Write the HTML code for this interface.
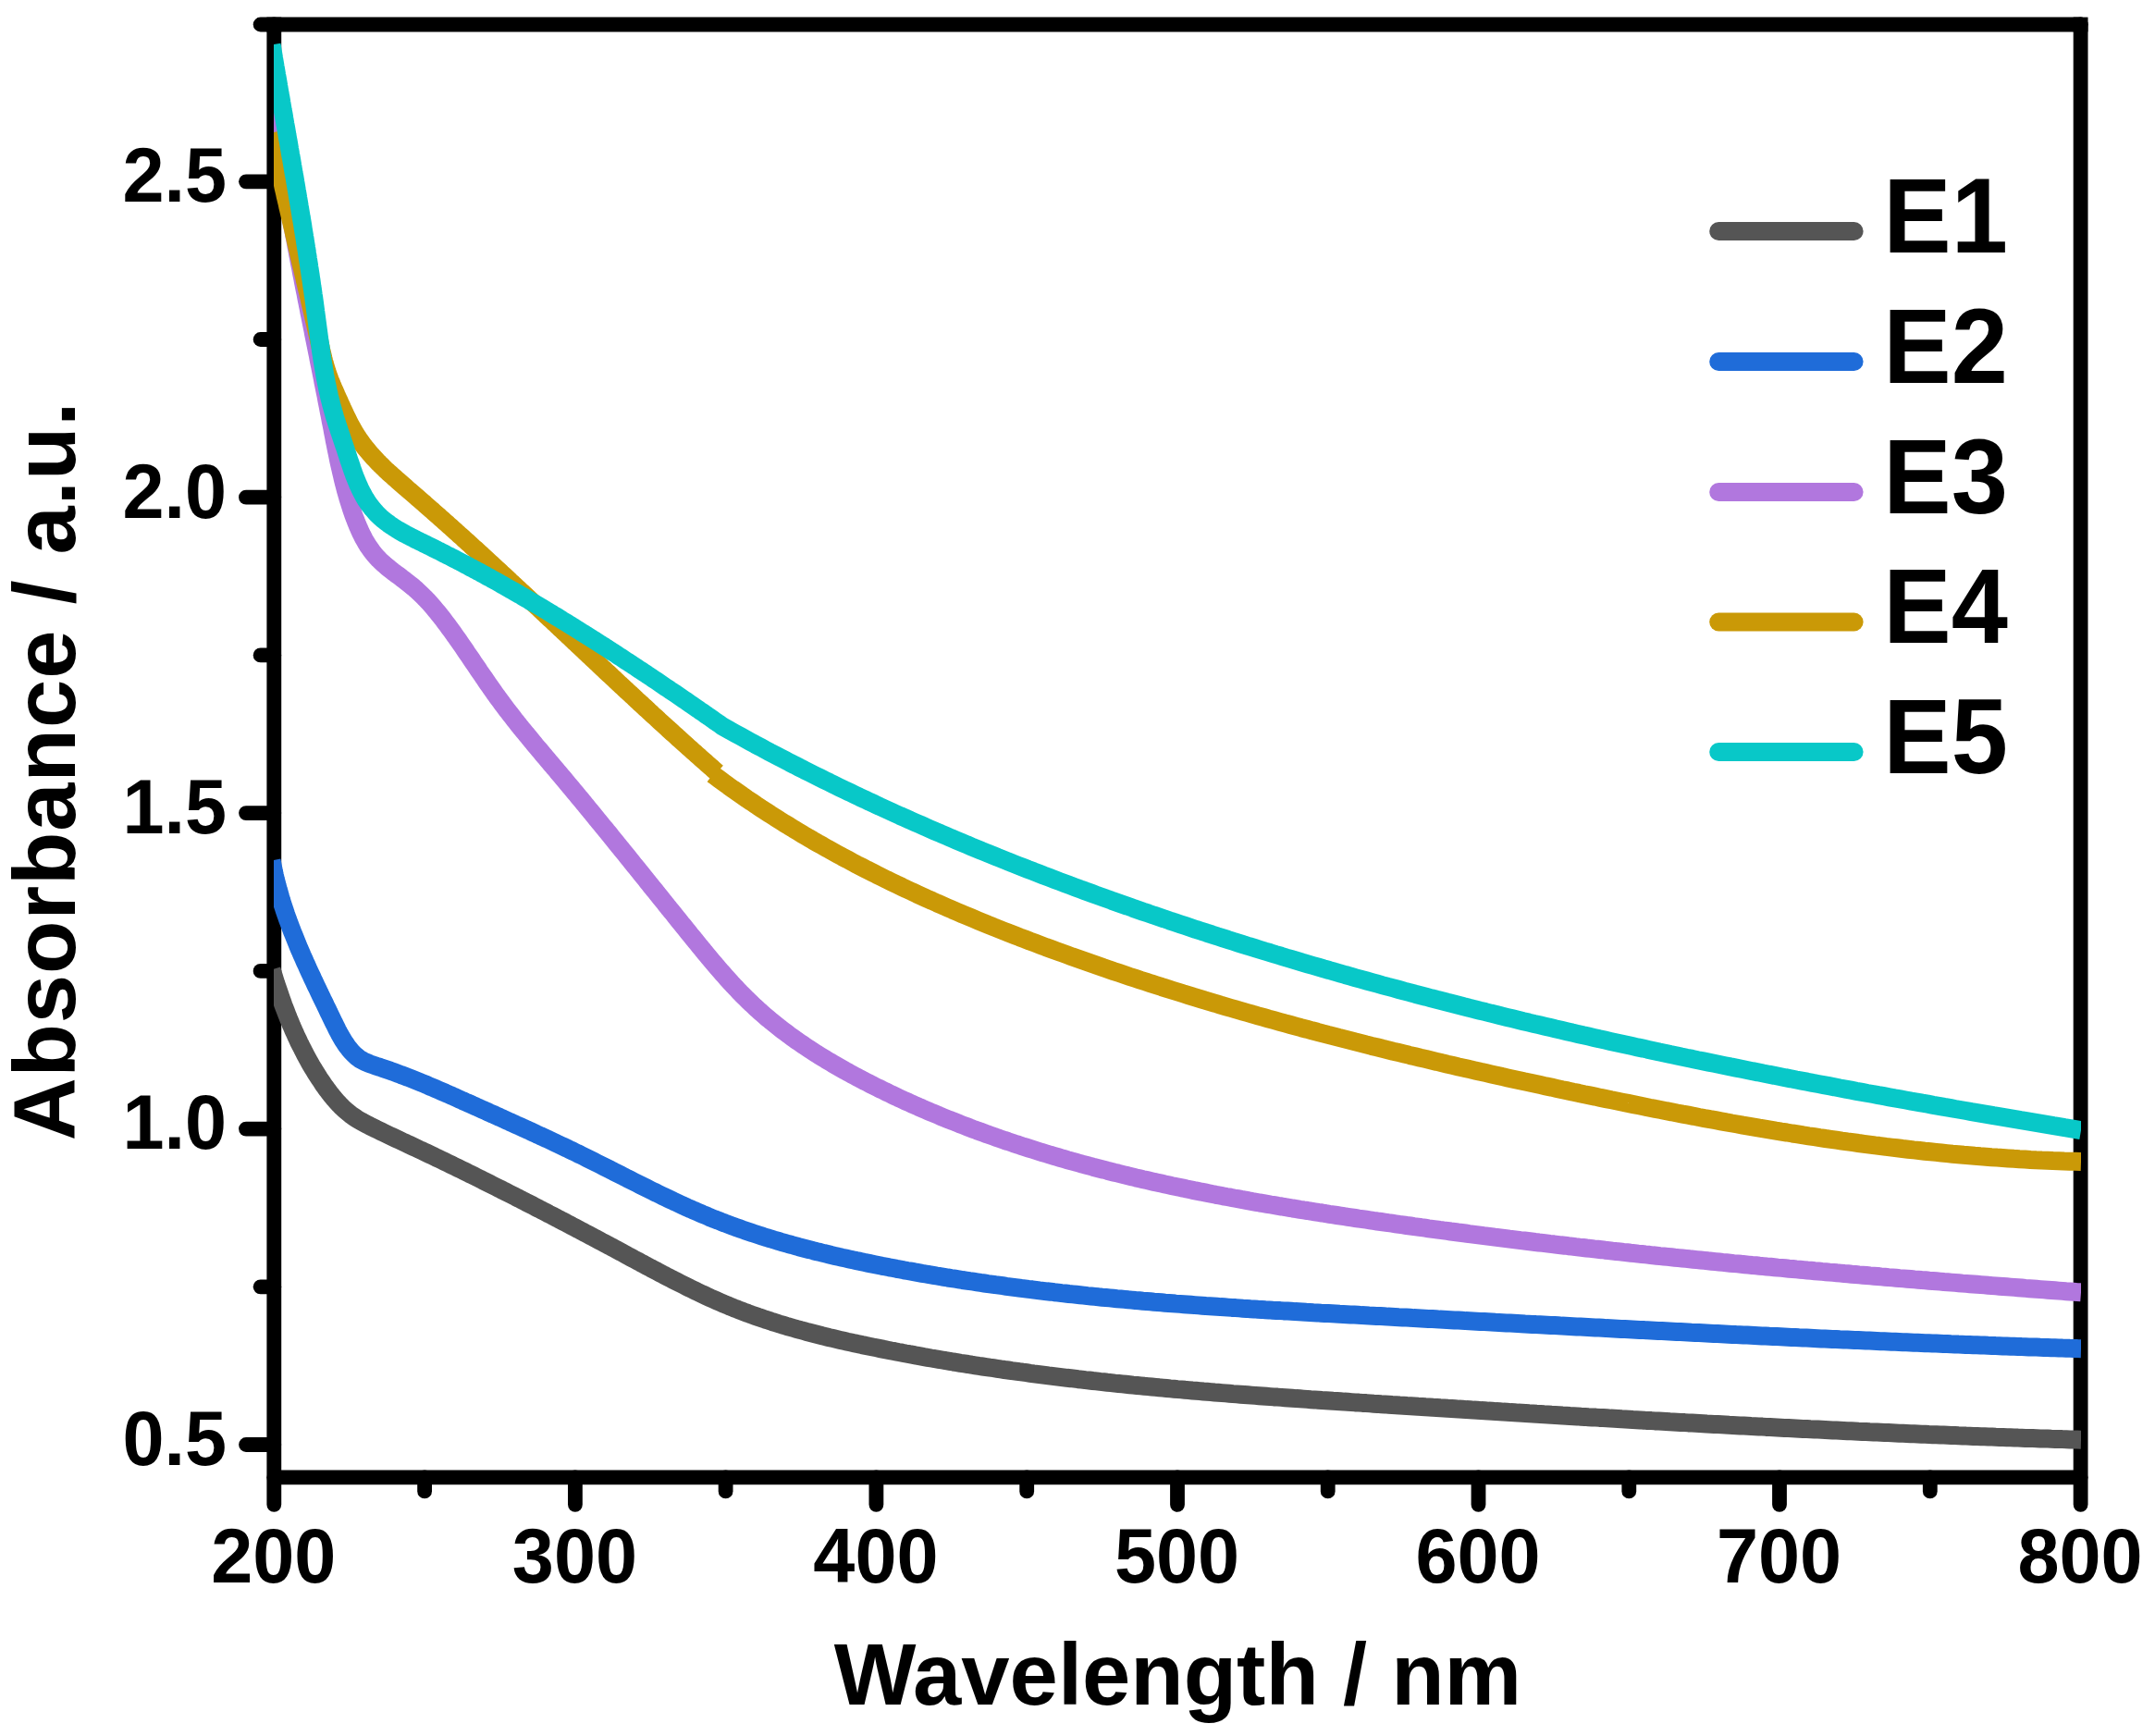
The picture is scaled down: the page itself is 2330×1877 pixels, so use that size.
<!DOCTYPE html>
<html lang="en"><head><meta charset="utf-8"><title>Absorbance spectra E1-E5</title>
<style>
html,body{margin:0;padding:0;background:#fff}
body{width:2330px;height:1877px;overflow:hidden}
svg{display:block}
</style></head><body>
<svg width="2330" height="1877" viewBox="0 0 2330 1877" font-family="'Liberation Sans', Arial, Helvetica, sans-serif" font-weight="bold">
<defs><clipPath id="pc"><rect x="296.0" y="26.5" width="1954.0" height="1570.9"/></clipPath></defs>
<rect width="2330" height="1877" fill="#fff"/>
<g stroke="#000" stroke-width="15.8" fill="none" stroke-linecap="round">
<path d="M296.3 26.50V1626.8"/>
<path d="M2249.6 26.50V1626.8"/>
<path d="M281.6 26.5H2249.6"/>
<path d="M296.3 1597.4H2249.6"/>
<path d="M266.0 1562.0H296.3"/>
<path d="M266.0 1220.6H296.3"/>
<path d="M266.0 879.1H296.3"/>
<path d="M266.0 537.7H296.3"/>
<path d="M266.0 196.3H296.3"/>
<path d="M281.6 1391.3H296.3"/>
<path d="M281.6 1049.9H296.3"/>
<path d="M281.6 708.4H296.3"/>
<path d="M281.6 367.0H296.3"/>
<path d="M621.9 1597.4V1626.8"/>
<path d="M947.4 1597.4V1626.8"/>
<path d="M1273.0 1597.4V1626.8"/>
<path d="M1598.5 1597.4V1626.8"/>
<path d="M1924.0 1597.4V1626.8"/>
<path d="M459.1 1597.4V1612.4"/>
<path d="M784.6 1597.4V1612.4"/>
<path d="M1110.2 1597.4V1612.4"/>
<path d="M1435.7 1597.4V1612.4"/>
<path d="M1761.3 1597.4V1612.4"/>
<path d="M2086.8 1597.4V1612.4"/>
</g>
<rect x="288.40000000000003" y="18.6" width="15.8" height="15.8" fill="#000"/>
<rect x="2241.7" y="18.6" width="15.8" height="15.8" fill="#000"/>
<g clip-path="url(#pc)" fill="none" stroke-width="20" stroke-linejoin="bevel">
<path stroke="#555555" d="M293.6 1048.5L294.8 1052.3L296.0 1056.1L297.2 1059.9L298.4 1063.7L299.7 1067.5L301.0 1071.3L302.3 1075.1L303.6 1078.9L305.0 1082.7L306.3 1086.5L307.7 1090.2L309.2 1094.0L310.6 1097.7L312.1 1101.5L313.7 1105.2L315.2 1108.9L316.8 1112.6L318.4 1116.2L320.1 1119.9L321.8 1123.5L323.5 1127.2L325.3 1130.8L327.1 1134.3L328.9 1137.9L330.8 1141.5L332.7 1145.0L334.6 1148.5L336.6 1152.0L338.7 1155.4L340.7 1158.8L342.9 1162.2L345.0 1165.6L347.3 1168.9L349.5 1172.3L351.8 1175.5L354.2 1178.8L356.6 1182.0L359.1 1185.1L361.7 1188.2L364.3 1191.2L367.0 1194.1L369.8 1197.0L372.7 1199.7L375.7 1202.3L378.8 1204.8L382.0 1207.1L385.4 1209.4L388.8 1211.5L392.3 1213.4L395.9 1215.3L399.5 1217.2L403.1 1219.0L406.7 1220.8L410.3 1222.5L413.9 1224.3L417.5 1226.0L421.1 1227.7L424.7 1229.4L428.3 1231.1L431.9 1232.8L435.5 1234.5L439.2 1236.2L442.8 1237.9L446.4 1239.6L450.0 1241.3L453.6 1243.0L457.3 1244.7L460.9 1246.4L464.5 1248.1L468.1 1249.8L471.7 1251.6L475.3 1253.3L478.9 1255.0L482.5 1256.8L486.1 1258.5L489.7 1260.3L493.3 1262.0L496.9 1263.8L500.5 1265.5L504.1 1267.3L507.7 1269.1L511.3 1270.8L514.9 1272.6L518.5 1274.4L522.0 1276.2L525.6 1278.0L529.2 1279.8L532.8 1281.6L536.4 1283.4L540.0 1285.2L543.5 1287.0L547.1 1288.8L550.7 1290.6L554.3 1292.4L557.8 1294.2L561.4 1296.0L565.0 1297.9L568.5 1299.7L572.1 1301.5L575.7 1303.3L579.2 1305.2L582.8 1307.0L586.4 1308.9L589.9 1310.7L593.5 1312.6L597.1 1314.4L600.6 1316.3L604.2 1318.1L607.7 1320.0L611.3 1321.8L614.8 1323.7L618.4 1325.6L621.9 1327.4L625.5 1329.3L629.0 1331.2L632.6 1333.1L636.1 1334.9L639.7 1336.8L643.2 1338.7L646.8 1340.6L650.3 1342.5L653.9 1344.4L657.4 1346.3L661.0 1348.1L664.5 1350.0L668.0 1351.9L671.6 1353.8L675.1 1355.7L678.7 1357.7L682.2 1359.6L685.7 1361.5L689.3 1363.4L692.8 1365.3L696.4 1367.2L699.9 1369.1L703.5 1371.0L707.0 1372.8L710.6 1374.7L714.1 1376.6L717.7 1378.5L721.2 1380.3L724.8 1382.2L728.3 1384.0L731.9 1385.8L735.5 1387.6L739.1 1389.4L742.7 1391.2L746.3 1393.0L749.9 1394.7L753.5 1396.5L757.1 1398.2L760.7 1399.9L764.3 1401.6L768.0 1403.3L771.6 1404.9L775.2 1406.5L778.9 1408.1L782.6 1409.7L786.3 1411.2L789.9 1412.8L793.6 1414.3L797.4 1415.7L801.1 1417.2L804.8 1418.6L808.6 1420.0L812.3 1421.4L816.1 1422.7L819.8 1424.0L823.6 1425.3L827.4 1426.6L831.2 1427.8L835.0 1429.1L838.8 1430.3L842.6 1431.5L846.4 1432.6L850.3 1433.8L854.1 1434.9L858.0 1436.0L861.8 1437.1L865.7 1438.2L869.5 1439.2L873.4 1440.3L877.3 1441.3L881.2 1442.3L885.1 1443.3L889.0 1444.3L892.9 1445.2L896.8 1446.2L900.7 1447.1L904.6 1448.0L908.5 1448.9L912.4 1449.8L916.3 1450.7L920.2 1451.5L924.2 1452.4L928.1 1453.2L932.0 1454.1L935.9 1454.9L939.9 1455.7L943.8 1456.5L947.8 1457.3L951.7 1458.1L955.6 1458.9L959.6 1459.7L963.5 1460.5L967.4 1461.2L971.4 1462.0L975.3 1462.7L979.3 1463.5L983.2 1464.2L987.2 1464.9L991.1 1465.7L995.1 1466.4L999.0 1467.1L1003.0 1467.8L1006.9 1468.5L1010.9 1469.2L1014.8 1469.8L1018.8 1470.5L1022.7 1471.2L1026.7 1471.8L1030.6 1472.5L1034.6 1473.1L1038.5 1473.8L1042.5 1474.4L1046.5 1475.0L1050.4 1475.7L1054.4 1476.3L1058.3 1476.9L1062.3 1477.5L1066.3 1478.1L1070.2 1478.7L1074.2 1479.2L1078.2 1479.8L1082.1 1480.4L1086.1 1481.0L1090.1 1481.5L1094.0 1482.1L1098.0 1482.6L1102.0 1483.2L1105.9 1483.7L1109.9 1484.2L1113.9 1484.8L1117.8 1485.3L1121.8 1485.8L1125.8 1486.3L1129.8 1486.8L1133.7 1487.3L1137.7 1487.8L1141.7 1488.3L1145.7 1488.8L1149.7 1489.3L1153.6 1489.8L1157.6 1490.2L1161.6 1490.7L1165.6 1491.2L1169.6 1491.6L1173.5 1492.1L1177.5 1492.5L1181.5 1493.0L1185.5 1493.4L1189.5 1493.9L1193.5 1494.3L1197.4 1494.7L1201.4 1495.1L1205.4 1495.6L1209.4 1496.0L1213.4 1496.4L1217.4 1496.8L1221.4 1497.2L1225.3 1497.6L1229.3 1498.0L1233.3 1498.4L1237.3 1498.8L1241.3 1499.1L1245.3 1499.5L1249.3 1499.9L1253.3 1500.3L1257.3 1500.6L1261.3 1501.0L1265.3 1501.4L1269.2 1501.7L1273.2 1502.1L1277.2 1502.4L1281.2 1502.8L1285.2 1503.1L1289.2 1503.5L1293.2 1503.8L1297.2 1504.1L1301.2 1504.5L1305.2 1504.8L1309.2 1505.1L1313.2 1505.5L1317.2 1505.8L1321.2 1506.1L1325.2 1506.4L1329.2 1506.7L1333.2 1507.1L1337.2 1507.4L1341.2 1507.7L1345.2 1508.0L1349.2 1508.3L1353.2 1508.6L1357.2 1508.9L1361.2 1509.2L1365.2 1509.5L1369.2 1509.8L1373.2 1510.1L1377.2 1510.4L1381.2 1510.6L1385.2 1510.9L1389.2 1511.2L1393.2 1511.5L1397.2 1511.8L1401.2 1512.1L1405.2 1512.3L1409.2 1512.6L1413.2 1512.9L1417.2 1513.2L1421.2 1513.4L1425.2 1513.7L1429.2 1514.0L1433.2 1514.2L1437.2 1514.5L1441.2 1514.8L1445.2 1515.0L1449.2 1515.3L1453.2 1515.6L1457.2 1515.8L1461.2 1516.1L1465.2 1516.4L1469.2 1516.6L1473.2 1516.9L1477.2 1517.1L1481.3 1517.4L1485.3 1517.7L1489.3 1517.9L1493.3 1518.2L1497.3 1518.4L1501.3 1518.7L1505.3 1519.0L1509.3 1519.2L1513.3 1519.5L1517.3 1519.7L1521.3 1520.0L1525.3 1520.2L1529.3 1520.5L1533.3 1520.8L1537.3 1521.0L1541.3 1521.3L1545.3 1521.5L1549.3 1521.8L1553.3 1522.0L1557.3 1522.3L1561.3 1522.5L1565.3 1522.8L1569.3 1523.0L1573.3 1523.3L1577.3 1523.6L1581.3 1523.8L1585.3 1524.1L1589.3 1524.3L1593.3 1524.6L1597.3 1524.8L1601.3 1525.1L1605.3 1525.3L1609.3 1525.6L1613.3 1525.8L1617.3 1526.1L1621.3 1526.3L1625.3 1526.6L1629.3 1526.8L1633.3 1527.1L1637.3 1527.3L1641.3 1527.6L1645.3 1527.8L1649.3 1528.0L1653.3 1528.3L1657.3 1528.5L1661.3 1528.8L1665.4 1529.0L1669.4 1529.3L1673.4 1529.5L1677.4 1529.8L1681.4 1530.0L1685.4 1530.2L1689.4 1530.5L1693.4 1530.7L1697.4 1531.0L1701.4 1531.2L1705.4 1531.4L1709.4 1531.7L1713.4 1531.9L1717.4 1532.2L1721.4 1532.4L1725.4 1532.6L1729.4 1532.9L1733.4 1533.1L1737.4 1533.3L1741.4 1533.6L1745.4 1533.8L1749.4 1534.0L1753.4 1534.3L1757.4 1534.5L1761.4 1534.7L1765.4 1535.0L1769.4 1535.2L1773.4 1535.4L1777.4 1535.7L1781.4 1535.9L1785.4 1536.1L1789.4 1536.4L1793.4 1536.6L1797.4 1536.8L1801.4 1537.0L1805.4 1537.3L1809.4 1537.5L1813.4 1537.7L1817.4 1537.9L1821.4 1538.1L1825.4 1538.4L1829.4 1538.6L1833.4 1538.8L1837.4 1539.0L1841.4 1539.2L1845.4 1539.5L1849.4 1539.7L1853.4 1539.9L1857.4 1540.1L1861.4 1540.3L1865.4 1540.5L1869.4 1540.8L1873.4 1541.0L1877.4 1541.2L1881.4 1541.4L1885.4 1541.6L1889.4 1541.8L1893.4 1542.0L1897.5 1542.2L1901.5 1542.4L1905.5 1542.6L1909.5 1542.9L1913.5 1543.1L1917.5 1543.3L1921.5 1543.5L1925.5 1543.7L1929.5 1543.9L1933.5 1544.1L1937.5 1544.3L1941.5 1544.5L1945.5 1544.7L1949.5 1544.9L1953.5 1545.1L1957.5 1545.3L1961.5 1545.4L1965.5 1545.6L1969.5 1545.8L1973.5 1546.0L1977.5 1546.2L1981.5 1546.4L1985.5 1546.6L1989.5 1546.8L1993.5 1547.0L1997.5 1547.2L2001.5 1547.3L2005.5 1547.5L2009.5 1547.7L2013.6 1547.9L2017.6 1548.1L2021.6 1548.3L2025.6 1548.4L2029.6 1548.6L2033.6 1548.8L2037.6 1549.0L2041.6 1549.1L2045.6 1549.3L2049.6 1549.5L2053.6 1549.7L2057.6 1549.8L2061.6 1550.0L2065.6 1550.2L2069.6 1550.3L2073.6 1550.5L2077.6 1550.7L2081.6 1550.8L2085.6 1551.0L2089.7 1551.2L2093.7 1551.3L2097.7 1551.5L2101.7 1551.6L2105.7 1551.8L2109.7 1552.0L2113.7 1552.1L2117.7 1552.3L2121.7 1552.4L2125.7 1552.6L2129.7 1552.7L2133.7 1552.9L2137.7 1553.0L2141.7 1553.2L2145.8 1553.3L2149.8 1553.5L2153.8 1553.6L2157.8 1553.8L2161.8 1553.9L2165.8 1554.0L2169.8 1554.2L2173.8 1554.3L2177.8 1554.4L2181.8 1554.6L2185.8 1554.7L2189.8 1554.9L2193.9 1555.0L2197.9 1555.1L2201.9 1555.2L2205.9 1555.4L2209.9 1555.5L2213.9 1555.6L2217.9 1555.8L2221.9 1555.9L2225.9 1556.0L2229.9 1556.1L2234.0 1556.2L2238.0 1556.4L2242.0 1556.5L2246.0 1556.6L2250.0 1556.7"/>
<path stroke="#1f6cd9" d="M293.6 930.5L294.4 934.5L295.2 938.5L296.0 942.5L296.9 946.5L297.8 950.4L298.8 954.3L299.8 958.2L300.9 962.1L302.0 965.9L303.1 969.8L304.2 973.6L305.4 977.4L306.7 981.2L307.9 985.0L309.2 988.8L310.5 992.5L311.9 996.3L313.3 1000.0L314.7 1003.7L316.1 1007.4L317.6 1011.1L319.1 1014.8L320.6 1018.5L322.1 1022.2L323.6 1025.9L325.2 1029.5L326.8 1033.2L328.4 1036.8L330.0 1040.5L331.7 1044.1L333.3 1047.8L335.0 1051.4L336.7 1055.0L338.4 1058.7L340.1 1062.3L341.8 1066.0L343.6 1069.6L345.3 1073.3L347.0 1076.9L348.8 1080.6L350.6 1084.2L352.3 1087.9L354.1 1091.5L355.8 1095.2L357.6 1098.9L359.4 1102.6L361.2 1106.3L363.0 1109.9L364.8 1113.6L366.7 1117.2L368.7 1120.7L370.7 1124.2L372.9 1127.6L375.1 1130.9L377.5 1134.0L380.1 1137.1L382.8 1139.9L385.7 1142.5L388.8 1144.9L392.2 1146.8L395.7 1148.6L399.3 1150.1L403.1 1151.4L406.9 1152.7L410.7 1153.9L414.5 1155.2L418.3 1156.5L422.1 1157.8L425.9 1159.2L429.7 1160.6L433.4 1162.0L437.2 1163.4L440.9 1164.8L444.7 1166.3L448.4 1167.8L452.1 1169.3L455.8 1170.8L459.6 1172.3L463.3 1173.9L466.9 1175.4L470.6 1177.0L474.3 1178.6L478.0 1180.2L481.7 1181.8L485.3 1183.4L489.0 1185.0L492.7 1186.7L496.3 1188.3L500.0 1190.0L503.6 1191.6L507.3 1193.2L511.0 1194.9L514.6 1196.5L518.3 1198.2L521.9 1199.8L525.6 1201.4L529.2 1203.1L532.9 1204.7L536.6 1206.4L540.2 1208.0L543.9 1209.7L547.5 1211.3L551.2 1213.0L554.8 1214.6L558.5 1216.3L562.1 1217.9L565.8 1219.6L569.4 1221.3L573.1 1222.9L576.7 1224.6L580.3 1226.3L584.0 1228.0L587.6 1229.6L591.3 1231.3L594.9 1233.0L598.5 1234.7L602.2 1236.5L605.8 1238.2L609.4 1239.9L613.0 1241.6L616.7 1243.4L620.3 1245.1L623.9 1246.9L627.5 1248.6L631.1 1250.4L634.7 1252.2L638.3 1254.0L641.9 1255.8L645.5 1257.6L649.1 1259.4L652.7 1261.2L656.3 1263.0L659.9 1264.8L663.5 1266.7L667.1 1268.5L670.7 1270.3L674.3 1272.1L677.9 1274.0L681.5 1275.8L685.1 1277.6L688.7 1279.4L692.3 1281.2L695.9 1283.0L699.5 1284.8L703.1 1286.6L706.7 1288.4L710.3 1290.1L713.9 1291.9L717.5 1293.7L721.2 1295.4L724.8 1297.1L728.4 1298.8L732.1 1300.5L735.7 1302.2L739.3 1303.9L743.0 1305.6L746.7 1307.2L750.3 1308.8L754.0 1310.4L757.7 1312.0L761.4 1313.6L765.1 1315.1L768.8 1316.7L772.5 1318.2L776.2 1319.6L779.9 1321.1L783.7 1322.5L787.4 1323.9L791.2 1325.3L794.9 1326.7L798.7 1328.0L802.5 1329.4L806.3 1330.7L810.1 1332.0L813.8 1333.3L817.7 1334.5L821.5 1335.7L825.3 1337.0L829.1 1338.2L832.9 1339.3L836.8 1340.5L840.6 1341.6L844.4 1342.8L848.3 1343.9L852.1 1345.0L856.0 1346.0L859.9 1347.1L863.7 1348.2L867.6 1349.2L871.5 1350.2L875.4 1351.2L879.2 1352.2L883.1 1353.2L887.0 1354.1L890.9 1355.1L894.8 1356.0L898.7 1357.0L902.6 1357.9L906.5 1358.8L910.5 1359.7L914.4 1360.5L918.3 1361.4L922.2 1362.3L926.1 1363.1L930.1 1363.9L934.0 1364.8L937.9 1365.6L941.8 1366.4L945.8 1367.2L949.7 1368.0L953.6 1368.8L957.6 1369.5L961.5 1370.3L965.5 1371.0L969.4 1371.8L973.3 1372.5L977.3 1373.3L981.2 1374.0L985.2 1374.7L989.1 1375.4L993.1 1376.1L997.0 1376.8L1001.0 1377.5L1004.9 1378.2L1008.9 1378.8L1012.8 1379.5L1016.8 1380.2L1020.7 1380.8L1024.7 1381.5L1028.6 1382.1L1032.6 1382.7L1036.6 1383.3L1040.5 1384.0L1044.5 1384.6L1048.4 1385.2L1052.4 1385.7L1056.4 1386.3L1060.3 1386.9L1064.3 1387.5L1068.3 1388.1L1072.2 1388.6L1076.2 1389.2L1080.2 1389.7L1084.2 1390.2L1088.1 1390.8L1092.1 1391.3L1096.1 1391.8L1100.1 1392.3L1104.0 1392.9L1108.0 1393.4L1112.0 1393.9L1116.0 1394.3L1120.0 1394.8L1123.9 1395.3L1127.9 1395.8L1131.9 1396.3L1135.9 1396.7L1139.9 1397.2L1143.9 1397.6L1147.8 1398.1L1151.8 1398.5L1155.8 1399.0L1159.8 1399.4L1163.8 1399.8L1167.8 1400.2L1171.8 1400.6L1175.8 1401.1L1179.8 1401.5L1183.8 1401.9L1187.7 1402.3L1191.7 1402.7L1195.7 1403.0L1199.7 1403.4L1203.7 1403.8L1207.7 1404.2L1211.7 1404.5L1215.7 1404.9L1219.7 1405.3L1223.7 1405.6L1227.7 1406.0L1231.7 1406.3L1235.7 1406.7L1239.7 1407.0L1243.7 1407.3L1247.7 1407.7L1251.7 1408.0L1255.7 1408.3L1259.7 1408.7L1263.7 1409.0L1267.7 1409.3L1271.7 1409.6L1275.8 1409.9L1279.8 1410.2L1283.8 1410.5L1287.8 1410.8L1291.8 1411.1L1295.8 1411.4L1299.8 1411.7L1303.8 1412.0L1307.8 1412.2L1311.8 1412.5L1315.8 1412.8L1319.8 1413.1L1323.8 1413.3L1327.9 1413.6L1331.9 1413.9L1335.9 1414.1L1339.9 1414.4L1343.9 1414.7L1347.9 1414.9L1351.9 1415.2L1355.9 1415.4L1360.0 1415.7L1364.0 1415.9L1368.0 1416.2L1372.0 1416.4L1376.0 1416.7L1380.0 1416.9L1384.0 1417.1L1388.0 1417.4L1392.1 1417.6L1396.1 1417.8L1400.1 1418.1L1404.1 1418.3L1408.1 1418.5L1412.1 1418.8L1416.1 1419.0L1420.1 1419.2L1424.2 1419.4L1428.2 1419.7L1432.2 1419.9L1436.2 1420.1L1440.2 1420.3L1444.2 1420.5L1448.2 1420.8L1452.3 1421.0L1456.3 1421.2L1460.3 1421.4L1464.3 1421.6L1468.3 1421.8L1472.3 1422.1L1476.3 1422.3L1480.3 1422.5L1484.4 1422.7L1488.4 1422.9L1492.4 1423.1L1496.4 1423.3L1500.4 1423.6L1504.4 1423.8L1508.4 1424.0L1512.4 1424.2L1516.5 1424.4L1520.5 1424.6L1524.5 1424.8L1528.5 1425.1L1532.5 1425.3L1536.5 1425.5L1540.5 1425.7L1544.5 1425.9L1548.5 1426.1L1552.5 1426.3L1556.6 1426.6L1560.6 1426.8L1564.6 1427.0L1568.6 1427.2L1572.6 1427.4L1576.6 1427.6L1580.6 1427.8L1584.6 1428.1L1588.6 1428.3L1592.6 1428.5L1596.6 1428.7L1600.6 1428.9L1604.7 1429.1L1608.7 1429.3L1612.7 1429.5L1616.7 1429.8L1620.7 1430.0L1624.7 1430.2L1628.7 1430.4L1632.7 1430.6L1636.7 1430.8L1640.7 1431.0L1644.7 1431.2L1648.7 1431.5L1652.7 1431.7L1656.7 1431.9L1660.7 1432.1L1664.8 1432.3L1668.8 1432.5L1672.8 1432.7L1676.8 1432.9L1680.8 1433.1L1684.8 1433.3L1688.8 1433.6L1692.8 1433.8L1696.8 1434.0L1700.8 1434.2L1704.8 1434.4L1708.8 1434.6L1712.8 1434.8L1716.8 1435.0L1720.8 1435.2L1724.8 1435.4L1728.8 1435.6L1732.8 1435.8L1736.8 1436.1L1740.9 1436.3L1744.9 1436.5L1748.9 1436.7L1752.9 1436.9L1756.9 1437.1L1760.9 1437.3L1764.9 1437.5L1768.9 1437.7L1772.9 1437.9L1776.9 1438.1L1780.9 1438.3L1784.9 1438.5L1788.9 1438.7L1792.9 1438.9L1796.9 1439.1L1800.9 1439.3L1804.9 1439.5L1808.9 1439.7L1812.9 1439.9L1816.9 1440.1L1820.9 1440.3L1824.9 1440.5L1828.9 1440.7L1833.0 1440.9L1837.0 1441.1L1841.0 1441.3L1845.0 1441.5L1849.0 1441.7L1853.0 1441.9L1857.0 1442.1L1861.0 1442.3L1865.0 1442.5L1869.0 1442.7L1873.0 1442.9L1877.0 1443.1L1881.0 1443.2L1885.0 1443.4L1889.0 1443.6L1893.0 1443.8L1897.0 1444.0L1901.0 1444.2L1905.0 1444.4L1909.0 1444.6L1913.0 1444.8L1917.1 1445.0L1921.1 1445.1L1925.1 1445.3L1929.1 1445.5L1933.1 1445.7L1937.1 1445.9L1941.1 1446.1L1945.1 1446.3L1949.1 1446.4L1953.1 1446.6L1957.1 1446.8L1961.1 1447.0L1965.1 1447.2L1969.1 1447.4L1973.1 1447.5L1977.1 1447.7L1981.1 1447.9L1985.2 1448.1L1989.2 1448.3L1993.2 1448.4L1997.2 1448.6L2001.2 1448.8L2005.2 1449.0L2009.2 1449.1L2013.2 1449.3L2017.2 1449.5L2021.2 1449.6L2025.2 1449.8L2029.2 1450.0L2033.2 1450.2L2037.3 1450.3L2041.3 1450.5L2045.3 1450.7L2049.3 1450.8L2053.3 1451.0L2057.3 1451.2L2061.3 1451.3L2065.3 1451.5L2069.3 1451.7L2073.3 1451.8L2077.4 1452.0L2081.4 1452.2L2085.4 1452.3L2089.4 1452.5L2093.4 1452.6L2097.4 1452.8L2101.4 1453.0L2105.4 1453.1L2109.4 1453.3L2113.5 1453.4L2117.5 1453.6L2121.5 1453.7L2125.5 1453.9L2129.5 1454.0L2133.5 1454.2L2137.5 1454.3L2141.5 1454.5L2145.6 1454.6L2149.6 1454.8L2153.6 1454.9L2157.6 1455.1L2161.6 1455.2L2165.6 1455.4L2169.6 1455.5L2173.7 1455.7L2177.7 1455.8L2181.7 1455.9L2185.7 1456.1L2189.7 1456.2L2193.7 1456.4L2197.8 1456.5L2201.8 1456.6L2205.8 1456.8L2209.8 1456.9L2213.8 1457.0L2217.8 1457.2L2221.9 1457.3L2225.9 1457.4L2229.9 1457.6L2233.9 1457.7L2237.9 1457.8L2242.0 1457.9L2246.0 1458.1L2250.0 1458.2"/>
<path stroke="#b177de" d="M293.6 105.0L294.2 109.0L294.7 113.0L295.3 116.9L295.8 120.9L296.4 124.9L297.0 128.8L297.6 132.8L298.2 136.8L298.8 140.7L299.4 144.7L300.0 148.7L300.6 152.6L301.2 156.6L301.9 160.6L302.5 164.5L303.1 168.5L303.8 172.4L304.4 176.4L305.1 180.3L305.7 184.3L306.4 188.2L307.1 192.2L307.8 196.1L308.4 200.1L309.1 204.0L309.8 208.0L310.5 211.9L311.2 215.8L311.9 219.8L312.6 223.7L313.3 227.7L314.0 231.6L314.8 235.5L315.5 239.5L316.2 243.4L316.9 247.3L317.7 251.3L318.4 255.2L319.2 259.1L319.9 263.1L320.6 267.0L321.4 270.9L322.1 274.9L322.9 278.8L323.6 282.7L324.4 286.7L325.2 290.6L325.9 294.5L326.7 298.4L327.5 302.4L328.2 306.3L329.0 310.2L329.8 314.2L330.6 318.1L331.3 322.0L332.1 325.9L332.9 329.9L333.7 333.8L334.4 337.7L335.2 341.6L336.0 345.6L336.8 349.5L337.6 353.4L338.4 357.3L339.1 361.3L339.9 365.2L340.7 369.1L341.5 373.1L342.3 377.0L343.1 380.9L343.9 384.8L344.6 388.8L345.4 392.7L346.2 396.6L347.0 400.6L347.8 404.5L348.6 408.4L349.3 412.4L350.1 416.3L350.9 420.2L351.7 424.2L352.5 428.1L353.2 432.0L354.0 436.0L354.8 439.9L355.5 443.8L356.3 447.8L357.1 451.7L357.8 455.7L358.6 459.6L359.4 463.5L360.1 467.5L360.9 471.4L361.6 475.4L362.4 479.3L363.2 483.2L364.0 487.2L364.8 491.1L365.6 495.0L366.4 499.0L367.3 502.9L368.2 506.8L369.1 510.7L370.0 514.6L370.9 518.5L371.9 522.4L372.9 526.3L373.9 530.2L375.0 534.0L376.1 537.9L377.3 541.7L378.5 545.5L379.7 549.4L381.0 553.2L382.3 557.0L383.7 560.7L385.2 564.5L386.7 568.2L388.3 571.9L389.9 575.5L391.7 579.1L393.5 582.6L395.5 586.1L397.5 589.5L399.7 592.7L402.0 595.9L404.4 599.0L407.0 602.0L409.7 604.9L412.5 607.6L415.5 610.3L418.5 612.9L421.6 615.4L424.8 617.9L428.0 620.3L431.3 622.7L434.5 625.2L437.7 627.6L440.9 630.1L444.1 632.6L447.2 635.1L450.2 637.8L453.1 640.5L456.0 643.2L458.8 646.0L461.6 648.9L464.3 651.8L466.9 654.8L469.5 657.8L472.0 660.8L474.5 663.9L477.0 667.0L479.5 670.2L481.9 673.4L484.3 676.6L486.6 679.8L489.0 683.0L491.3 686.3L493.6 689.5L495.9 692.8L498.2 696.1L500.5 699.4L502.8 702.7L505.0 706.1L507.3 709.4L509.6 712.7L511.8 716.1L514.1 719.4L516.4 722.7L518.6 726.1L520.9 729.4L523.2 732.7L525.5 736.1L527.7 739.4L530.1 742.7L532.4 746.0L534.7 749.3L537.0 752.5L539.4 755.8L541.8 759.0L544.2 762.3L546.6 765.5L549.0 768.7L551.5 771.9L554.0 775.0L556.4 778.2L558.9 781.3L561.4 784.5L563.9 787.6L566.5 790.7L569.0 793.8L571.6 796.9L574.1 800.0L576.7 803.1L579.2 806.2L581.8 809.2L584.4 812.3L586.9 815.4L589.5 818.4L592.1 821.5L594.7 824.6L597.3 827.6L599.9 830.7L602.4 833.7L605.0 836.8L607.6 839.9L610.2 842.9L612.7 846.0L615.3 849.1L617.9 852.1L620.4 855.2L623.0 858.3L625.5 861.4L628.1 864.4L630.6 867.5L633.2 870.6L635.7 873.7L638.2 876.8L640.8 879.9L643.3 883.0L645.8 886.1L648.4 889.2L650.9 892.3L653.4 895.3L655.9 898.4L658.5 901.5L661.0 904.7L663.5 907.8L666.0 910.9L668.5 914.0L671.1 917.1L673.6 920.2L676.1 923.3L678.6 926.4L681.1 929.5L683.6 932.6L686.1 935.8L688.7 938.9L691.2 942.0L693.7 945.1L696.2 948.2L698.7 951.3L701.2 954.5L703.7 957.6L706.2 960.7L708.8 963.8L711.3 967.0L713.8 970.1L716.3 973.2L718.8 976.3L721.3 979.5L723.8 982.6L726.4 985.7L728.9 988.8L731.4 992.0L733.9 995.1L736.4 998.2L739.0 1001.4L741.5 1004.5L744.0 1007.6L746.5 1010.7L749.1 1013.9L751.6 1017.0L754.2 1020.1L756.7 1023.3L759.3 1026.4L761.8 1029.5L764.4 1032.6L767.0 1035.7L769.5 1038.8L772.1 1041.8L774.7 1044.9L777.4 1048.0L780.0 1051.0L782.7 1054.0L785.3 1057.0L788.0 1060.0L790.7 1063.0L793.4 1065.9L796.2 1068.8L798.9 1071.7L801.7 1074.6L804.5 1077.4L807.4 1080.3L810.2 1083.0L813.1 1085.8L816.0 1088.5L819.0 1091.2L821.9 1093.9L824.9 1096.5L828.0 1099.2L831.0 1101.7L834.1 1104.3L837.2 1106.8L840.3 1109.3L843.4 1111.8L846.6 1114.2L849.8 1116.6L853.0 1119.0L856.2 1121.3L859.5 1123.7L862.8 1126.0L866.1 1128.2L869.4 1130.5L872.7 1132.7L876.0 1134.9L879.4 1137.1L882.8 1139.3L886.2 1141.4L889.6 1143.5L893.0 1145.6L896.5 1147.7L899.9 1149.7L903.4 1151.7L906.9 1153.7L910.4 1155.7L913.9 1157.7L917.4 1159.6L920.9 1161.6L924.5 1163.5L928.0 1165.4L931.6 1167.2L935.1 1169.1L938.7 1170.9L942.3 1172.8L945.9 1174.6L949.5 1176.4L953.1 1178.1L956.7 1179.9L960.3 1181.6L963.9 1183.4L967.5 1185.1L971.1 1186.8L974.8 1188.5L978.4 1190.2L982.1 1191.8L985.7 1193.5L989.4 1195.1L993.0 1196.7L996.7 1198.3L1000.3 1199.9L1004.0 1201.5L1007.7 1203.1L1011.4 1204.6L1015.1 1206.1L1018.8 1207.7L1022.5 1209.2L1026.2 1210.7L1029.9 1212.1L1033.6 1213.6L1037.3 1215.1L1041.0 1216.5L1044.7 1217.9L1048.5 1219.4L1052.2 1220.8L1056.0 1222.2L1059.7 1223.5L1063.5 1224.9L1067.2 1226.3L1071.0 1227.6L1074.7 1228.9L1078.5 1230.3L1082.3 1231.6L1086.0 1232.9L1089.8 1234.1L1093.6 1235.4L1097.4 1236.7L1101.2 1237.9L1105.0 1239.2L1108.8 1240.4L1112.6 1241.6L1116.4 1242.8L1120.2 1244.0L1124.0 1245.2L1127.8 1246.4L1131.6 1247.5L1135.5 1248.7L1139.3 1249.8L1143.1 1250.9L1147.0 1252.1L1150.8 1253.2L1154.6 1254.3L1158.5 1255.4L1162.3 1256.4L1166.2 1257.5L1170.1 1258.6L1173.9 1259.6L1177.8 1260.7L1181.6 1261.7L1185.5 1262.7L1189.4 1263.7L1193.3 1264.7L1197.1 1265.7L1201.0 1266.7L1204.9 1267.7L1208.8 1268.6L1212.7 1269.6L1216.6 1270.6L1220.4 1271.5L1224.3 1272.4L1228.2 1273.4L1232.1 1274.3L1236.0 1275.2L1240.0 1276.1L1243.9 1277.0L1247.8 1277.9L1251.7 1278.7L1255.6 1279.6L1259.5 1280.5L1263.4 1281.3L1267.4 1282.2L1271.3 1283.0L1275.2 1283.8L1279.1 1284.6L1283.1 1285.5L1287.0 1286.3L1290.9 1287.1L1294.9 1287.9L1298.8 1288.7L1302.8 1289.4L1306.7 1290.2L1310.6 1291.0L1314.6 1291.8L1318.5 1292.5L1322.5 1293.3L1326.4 1294.0L1330.4 1294.7L1334.3 1295.5L1338.3 1296.2L1342.2 1296.9L1346.2 1297.6L1350.2 1298.4L1354.1 1299.1L1358.1 1299.8L1362.0 1300.5L1366.0 1301.1L1370.0 1301.8L1373.9 1302.5L1377.9 1303.2L1381.9 1303.9L1385.8 1304.5L1389.8 1305.2L1393.8 1305.8L1397.7 1306.5L1401.7 1307.1L1405.7 1307.8L1409.6 1308.4L1413.6 1309.0L1417.6 1309.7L1421.6 1310.3L1425.5 1310.9L1429.5 1311.5L1433.5 1312.2L1437.4 1312.8L1441.4 1313.4L1445.4 1314.0L1449.4 1314.6L1453.3 1315.2L1457.3 1315.8L1461.3 1316.4L1465.3 1317.0L1469.2 1317.6L1473.2 1318.1L1477.2 1318.7L1481.2 1319.3L1485.1 1319.9L1489.1 1320.5L1493.1 1321.0L1497.1 1321.6L1501.0 1322.2L1505.0 1322.7L1509.0 1323.3L1513.0 1323.9L1516.9 1324.4L1520.9 1325.0L1524.9 1325.5L1528.9 1326.1L1532.8 1326.6L1536.8 1327.2L1540.8 1327.7L1544.7 1328.3L1548.7 1328.8L1552.7 1329.3L1556.7 1329.9L1560.6 1330.4L1564.6 1330.9L1568.6 1331.5L1572.6 1332.0L1576.5 1332.5L1580.5 1333.0L1584.5 1333.5L1588.4 1334.1L1592.4 1334.6L1596.4 1335.1L1600.4 1335.6L1604.3 1336.1L1608.3 1336.6L1612.3 1337.1L1616.2 1337.6L1620.2 1338.1L1624.2 1338.6L1628.2 1339.1L1632.1 1339.6L1636.1 1340.1L1640.1 1340.6L1644.1 1341.1L1648.0 1341.5L1652.0 1342.0L1656.0 1342.5L1659.9 1343.0L1663.9 1343.5L1667.9 1343.9L1671.9 1344.4L1675.8 1344.9L1679.8 1345.3L1683.8 1345.8L1687.7 1346.3L1691.7 1346.7L1695.7 1347.2L1699.7 1347.6L1703.6 1348.1L1707.6 1348.6L1711.6 1349.0L1715.6 1349.5L1719.5 1349.9L1723.5 1350.4L1727.5 1350.8L1731.4 1351.2L1735.4 1351.7L1739.4 1352.1L1743.4 1352.6L1747.3 1353.0L1751.3 1353.4L1755.3 1353.9L1759.3 1354.3L1763.2 1354.7L1767.2 1355.1L1771.2 1355.6L1775.2 1356.0L1779.1 1356.4L1783.1 1356.8L1787.1 1357.3L1791.1 1357.7L1795.0 1358.1L1799.0 1358.5L1803.0 1358.9L1807.0 1359.3L1810.9 1359.7L1814.9 1360.1L1818.9 1360.5L1822.9 1360.9L1826.8 1361.3L1830.8 1361.7L1834.8 1362.1L1838.8 1362.5L1842.8 1362.9L1846.7 1363.3L1850.7 1363.7L1854.7 1364.1L1858.7 1364.5L1862.6 1364.9L1866.6 1365.3L1870.6 1365.7L1874.6 1366.1L1878.6 1366.4L1882.5 1366.8L1886.5 1367.2L1890.5 1367.6L1894.5 1368.0L1898.5 1368.3L1902.4 1368.7L1906.4 1369.1L1910.4 1369.5L1914.4 1369.8L1918.4 1370.2L1922.3 1370.6L1926.3 1370.9L1930.3 1371.3L1934.3 1371.7L1938.3 1372.0L1942.2 1372.4L1946.2 1372.7L1950.2 1373.1L1954.2 1373.5L1958.2 1373.8L1962.2 1374.2L1966.2 1374.5L1970.1 1374.9L1974.1 1375.2L1978.1 1375.6L1982.1 1375.9L1986.1 1376.3L1990.1 1376.6L1994.1 1377.0L1998.0 1377.3L2002.0 1377.7L2006.0 1378.0L2010.0 1378.4L2014.0 1378.7L2018.0 1379.0L2022.0 1379.4L2026.0 1379.7L2029.9 1380.0L2033.9 1380.4L2037.9 1380.7L2041.9 1381.1L2045.9 1381.4L2049.9 1381.7L2053.9 1382.1L2057.9 1382.4L2061.9 1382.7L2065.9 1383.0L2069.9 1383.4L2073.9 1383.7L2077.8 1384.0L2081.8 1384.3L2085.8 1384.7L2089.8 1385.0L2093.8 1385.3L2097.8 1385.6L2101.8 1386.0L2105.8 1386.3L2109.8 1386.6L2113.8 1386.9L2117.8 1387.2L2121.8 1387.6L2125.8 1387.9L2129.8 1388.2L2133.8 1388.5L2137.8 1388.8L2141.8 1389.1L2145.8 1389.4L2149.8 1389.8L2153.8 1390.1L2157.8 1390.4L2161.8 1390.7L2165.8 1391.0L2169.8 1391.3L2173.8 1391.6L2177.8 1391.9L2181.8 1392.2L2185.8 1392.5L2189.8 1392.9L2193.9 1393.2L2197.9 1393.5L2201.9 1393.8L2205.9 1394.1L2209.9 1394.4L2213.9 1394.7L2217.9 1395.0L2221.9 1395.3L2225.9 1395.6L2229.9 1395.9L2233.9 1396.2L2238.0 1396.5L2242.0 1396.8L2246.0 1397.1L2250.0 1397.4"/>
<path stroke="#ca9907" d="M293.6 143.5L294.2 146.4L294.9 149.4L295.5 152.3L296.1 155.3L296.8 158.2L297.4 161.2L298.0 164.1L298.7 167.1L299.3 170.0L300.0 173.0L300.6 175.9L301.3 178.9L301.9 181.8L302.6 184.8L303.2 187.7L303.9 190.7L304.5 193.6L305.2 196.6L305.9 199.5L306.5 202.4L307.2 205.4L307.9 208.3L308.5 211.3L309.2 214.2L309.9 217.2L310.6 220.1L311.2 223.1L311.9 226.0L312.6 229.0L313.3 231.9L314.0 234.8L314.6 237.8L315.3 240.7L316.0 243.7L316.7 246.6L317.4 249.6L318.0 252.5L318.7 255.5L319.4 258.4L320.1 261.4L320.8 264.3L321.5 267.2L322.2 270.2L322.9 273.1L323.5 276.1L324.2 279.0L324.9 282.0L325.6 284.9L326.3 287.8L327.0 290.8L327.7 293.7L328.4 296.7L329.1 299.6L329.7 302.6L330.4 305.5L331.1 308.4L331.8 311.4L332.5 314.3L333.2 317.3L333.9 320.2L334.6 323.1L335.2 326.1L335.9 329.0L336.6 332.0L337.3 334.9L338.0 337.8L338.7 340.8L339.3 343.7L340.0 346.7L340.7 349.6L341.4 352.5L342.0 355.5L342.7 358.4L343.4 361.4L344.1 364.3L344.7 367.2L345.4 370.2L346.1 373.1L346.7 376.0L347.4 379.0L348.1 381.9L348.8 384.8L349.5 387.8L350.2 390.7L351.0 393.6L351.8 396.4L352.7 399.3L353.6 402.2L354.6 405.0L355.6 407.8L356.6 410.6L357.8 413.4L358.9 416.2L360.1 419.0L361.3 421.7L362.5 424.5L363.7 427.3L365.0 430.1L366.3 432.9L367.5 435.6L368.8 438.4L370.0 441.2L371.3 444.0L372.6 446.8L373.9 449.6L375.3 452.3L376.6 455.1L378.0 457.8L379.4 460.5L380.9 463.1L382.4 465.8L383.9 468.4L385.5 470.9L387.1 473.4L388.8 475.9L390.5 478.3L392.3 480.7L394.1 483.1L396.0 485.4L397.9 487.7L399.8 490.0L401.8 492.3L403.8 494.5L405.9 496.7L407.9 498.8L410.0 501.0L412.1 503.1L414.3 505.2L416.4 507.3L418.6 509.3L420.8 511.4L423.1 513.4L425.3 515.4L427.6 517.4L429.8 519.4L432.1 521.4L434.4 523.4L436.7 525.4L439.0 527.4L441.2 529.4L443.5 531.3L445.8 533.3L448.1 535.3L450.4 537.3L452.7 539.2L455.0 541.2L457.3 543.2L459.5 545.2L461.8 547.2L464.1 549.2L466.4 551.2L468.6 553.2L470.9 555.2L473.2 557.2L475.4 559.2L477.7 561.2L479.9 563.2L482.2 565.2L484.4 567.2L486.7 569.2L488.9 571.2L491.2 573.2L493.4 575.3L495.7 577.3L497.9 579.3L500.2 581.3L502.4 583.4L504.6 585.4L506.9 587.4L509.1 589.4L511.3 591.5L513.6 593.5L515.8 595.5L518.0 597.6L520.3 599.6L522.5 601.7L524.7 603.7L526.9 605.7L529.1 607.8L531.4 609.8L533.6 611.9L535.8 613.9L538.0 616.0L540.2 618.0L542.5 620.1L544.7 622.1L546.9 624.2L549.1 626.2L551.3 628.3L553.5 630.3L555.7 632.4L557.9 634.4L560.1 636.5L562.4 638.6L564.6 640.6L566.8 642.7L569.0 644.7L571.2 646.8L573.4 648.9L575.6 650.9L577.8 653.0L580.0 655.1L582.2 657.1L584.4 659.2L586.6 661.3L588.8 663.3L591.0 665.4L593.2 667.5L595.4 669.5L597.6 671.6L599.8 673.7L602.0 675.7L604.2 677.8L606.4 679.9L608.6 681.9L610.8 684.0L613.0 686.1L615.2 688.2L617.4 690.2L619.6 692.3L621.8 694.4L624.0 696.4L626.2 698.5L628.4 700.6L630.6 702.6L632.8 704.7L635.0 706.8L637.2 708.9L639.4 710.9L641.6 713.0L643.8 715.1L646.0 717.1L648.2 719.2L650.4 721.3L652.6 723.3L654.8 725.4L657.0 727.5L659.2 729.5L661.4 731.6L663.6 733.6L665.8 735.7L668.0 737.8L670.2 739.8L672.4 741.9L674.6 743.9L676.8 746.0L679.1 748.1L681.3 750.1L683.5 752.2L685.7 754.2L687.9 756.3L690.1 758.3L692.3 760.4L694.6 762.4L696.8 764.5L699.0 766.5L701.2 768.6L703.4 770.6L705.6 772.7L707.9 774.7L710.1 776.7L712.3 778.8L714.5 780.8L716.8 782.9L719.0 784.9L721.2 786.9L723.5 789.0L725.7 791.0L727.9 793.0L730.2 795.0L732.4 797.1L734.7 799.1L736.9 801.1L739.1 803.1L741.4 805.2L743.6 807.2L745.9 809.2L748.1 811.2L750.4 813.2L752.6 815.2L754.9 817.2L757.1 819.2L759.4 821.2L761.7 823.2L763.9 825.2L766.2 827.2L768.5 829.2L770.7 831.2L773.0 833.2L775.3 835.2M770.6 837.2L773.0 839.0L777.9 842.6L782.8 846.2L787.7 849.8L792.6 853.3L797.6 856.8L802.6 860.3L807.5 863.7L812.6 867.1L817.6 870.5L822.6 873.8L827.7 877.1L832.7 880.4L837.8 883.6L842.9 886.9L848.0 890.1L853.2 893.2L858.3 896.4L863.5 899.5L868.6 902.6L873.8 905.6L879.0 908.7L884.3 911.7L889.5 914.6L894.7 917.6L900.0 920.5L905.3 923.4L910.6 926.3L915.9 929.1L921.2 932.0L926.5 934.8L931.8 937.5L937.2 940.3L942.6 943.0L947.9 945.7L953.3 948.4L958.7 951.1L964.1 953.7L969.5 956.3L975.0 958.9L980.4 961.5L985.9 964.0L991.3 966.6L996.8 969.1L1002.3 971.6L1007.8 974.0L1013.3 976.5L1018.8 978.9L1024.3 981.3L1029.8 983.7L1035.4 986.1L1040.9 988.5L1046.5 990.8L1052.0 993.1L1057.6 995.4L1063.2 997.7L1068.7 1000.0L1074.3 1002.3L1079.9 1004.5L1085.5 1006.7L1091.1 1008.9L1096.8 1011.1L1102.4 1013.3L1108.0 1015.4L1113.6 1017.6L1119.3 1019.7L1124.9 1021.8L1130.6 1024.0L1136.2 1026.0L1141.9 1028.1L1147.6 1030.2L1153.2 1032.2L1158.9 1034.3L1164.6 1036.3L1170.3 1038.3L1176.0 1040.3L1181.7 1042.3L1187.4 1044.3L1193.1 1046.3L1198.8 1048.2L1204.5 1050.2L1210.2 1052.1L1215.9 1054.0L1221.6 1055.9L1227.4 1057.8L1233.1 1059.7L1238.9 1061.5L1244.6 1063.4L1250.3 1065.2L1256.1 1067.1L1261.8 1068.9L1267.6 1070.7L1273.4 1072.5L1279.1 1074.3L1284.9 1076.1L1290.7 1077.9L1296.4 1079.6L1302.2 1081.4L1308.0 1083.1L1313.8 1084.8L1319.6 1086.6L1325.4 1088.3L1331.2 1090.0L1337.0 1091.7L1342.8 1093.3L1348.6 1095.0L1354.4 1096.7L1360.2 1098.3L1366.0 1099.9L1371.8 1101.6L1377.7 1103.2L1383.5 1104.8L1389.3 1106.4L1395.2 1108.0L1401.0 1109.6L1406.8 1111.2L1412.7 1112.7L1418.5 1114.3L1424.3 1115.8L1430.2 1117.4L1436.0 1118.9L1441.9 1120.4L1447.7 1121.9L1453.6 1123.4L1459.5 1124.9L1465.3 1126.4L1471.2 1127.9L1477.0 1129.4L1482.9 1130.9L1488.8 1132.3L1494.7 1133.8L1500.5 1135.2L1506.4 1136.7L1512.3 1138.1L1518.2 1139.5L1524.0 1140.9L1529.9 1142.3L1535.8 1143.8L1541.7 1145.1L1547.6 1146.5L1553.5 1147.9L1559.3 1149.3L1565.2 1150.7L1571.1 1152.0L1577.0 1153.4L1582.9 1154.7L1588.8 1156.1L1594.7 1157.4L1600.6 1158.8L1606.5 1160.1L1612.4 1161.4L1618.3 1162.7L1624.2 1164.1L1630.1 1165.4L1636.0 1166.7L1641.9 1168.0L1647.8 1169.3L1653.7 1170.5L1659.6 1171.8L1665.5 1173.1L1671.4 1174.4L1677.4 1175.6L1683.3 1176.9L1689.2 1178.2L1695.1 1179.4L1701.0 1180.7L1706.9 1181.9L1712.8 1183.2L1718.7 1184.4L1724.6 1185.6L1730.5 1186.9L1736.4 1188.1L1742.3 1189.3L1748.3 1190.5L1754.2 1191.7L1760.1 1192.9L1766.0 1194.1L1771.9 1195.3L1777.8 1196.5L1783.7 1197.7L1789.7 1198.9L1795.6 1200.0L1801.5 1201.2L1807.4 1202.3L1813.3 1203.5L1819.2 1204.6L1825.2 1205.7L1831.1 1206.8L1837.0 1208.0L1842.9 1209.1L1848.9 1210.2L1854.8 1211.2L1860.7 1212.3L1866.6 1213.4L1872.6 1214.5L1878.5 1215.5L1884.4 1216.6L1890.4 1217.6L1896.3 1218.6L1902.2 1219.6L1908.2 1220.6L1914.1 1221.6L1920.0 1222.6L1926.0 1223.6L1931.9 1224.5L1937.9 1225.5L1943.8 1226.4L1949.8 1227.4L1955.7 1228.3L1961.7 1229.2L1967.6 1230.1L1973.6 1231.0L1979.5 1231.8L1985.5 1232.7L1991.5 1233.6L1997.4 1234.4L2003.4 1235.2L2009.3 1236.0L2015.3 1236.8L2021.3 1237.6L2027.3 1238.4L2033.2 1239.1L2039.2 1239.9L2045.2 1240.6L2051.2 1241.3L2057.1 1242.0L2063.1 1242.7L2069.1 1243.4L2075.1 1244.0L2081.1 1244.7L2087.1 1245.3L2093.1 1245.9L2099.1 1246.5L2105.1 1247.1L2111.1 1247.7L2117.1 1248.2L2123.1 1248.8L2129.1 1249.3L2135.1 1249.8L2141.2 1250.3L2147.2 1250.7L2153.2 1251.2L2159.2 1251.6L2165.3 1252.0L2171.3 1252.4L2177.3 1252.8L2183.4 1253.2L2189.4 1253.5L2195.5 1253.9L2201.5 1254.2L2207.6 1254.5L2213.6 1254.7L2219.7 1255.0L2225.7 1255.2L2231.8 1255.5L2237.9 1255.7L2243.9 1255.8L2250.0 1256.0"/>
<path stroke="#08c8c8" d="M293.6 48.3L294.1 51.3L294.6 54.2L295.1 57.2L295.6 60.2L296.1 63.2L296.6 66.1L297.1 69.1L297.6 72.1L298.1 75.0L298.6 78.0L299.1 81.0L299.7 84.0L300.2 86.9L300.7 89.9L301.2 92.9L301.7 95.8L302.2 98.8L302.7 101.8L303.3 104.7L303.8 107.7L304.3 110.7L304.8 113.6L305.3 116.6L305.8 119.6L306.4 122.5L306.9 125.5L307.4 128.5L307.9 131.4L308.4 134.4L309.0 137.4L309.5 140.3L310.0 143.3L310.5 146.3L311.0 149.2L311.6 152.2L312.1 155.1L312.6 158.1L313.1 161.1L313.6 164.0L314.1 167.0L314.7 170.0L315.2 172.9L315.7 175.9L316.2 178.9L316.7 181.8L317.2 184.8L317.7 187.8L318.3 190.7L318.8 193.7L319.3 196.7L319.8 199.6L320.3 202.6L320.8 205.6L321.3 208.5L321.8 211.5L322.3 214.5L322.8 217.4L323.3 220.4L323.8 223.4L324.3 226.3L324.8 229.3L325.3 232.3L325.8 235.3L326.3 238.2L326.8 241.2L327.3 244.2L327.7 247.1L328.2 250.1L328.7 253.1L329.2 256.1L329.7 259.0L330.1 262.0L330.6 265.0L331.1 268.0L331.6 270.9L332.0 273.9L332.5 276.9L332.9 279.9L333.4 282.8L333.9 285.8L334.3 288.8L334.8 291.8L335.2 294.8L335.7 297.7L336.1 300.7L336.6 303.7L337.0 306.7L337.4 309.7L337.9 312.7L338.3 315.6L338.7 318.6L339.2 321.6L339.6 324.6L340.0 327.6L340.4 330.6L340.8 333.6L341.2 336.6L341.6 339.5L342.0 342.5L342.4 345.5L342.8 348.5L343.2 351.5L343.6 354.5L344.0 357.5L344.4 360.5L344.8 363.5L345.2 366.5L345.6 369.5L346.1 372.5L346.5 375.4L346.9 378.4L347.3 381.4L347.8 384.4L348.2 387.4L348.7 390.3L349.2 393.3L349.7 396.3L350.2 399.2L350.7 402.2L351.2 405.2L351.7 408.1L352.3 411.0L352.9 414.0L353.5 416.9L354.1 419.9L354.7 422.8L355.4 425.7L356.0 428.6L356.7 431.5L357.5 434.4L358.2 437.3L359.0 440.2L359.8 443.1L360.6 445.9L361.4 448.8L362.3 451.7L363.2 454.5L364.1 457.4L365.0 460.2L366.0 463.1L366.9 465.9L367.9 468.8L368.8 471.6L369.8 474.5L370.8 477.4L371.7 480.2L372.7 483.1L373.7 486.0L374.6 488.9L375.6 491.8L376.5 494.8L377.5 497.7L378.5 500.6L379.5 503.5L380.5 506.5L381.5 509.4L382.5 512.2L383.6 515.1L384.7 517.9L385.9 520.8L387.0 523.5L388.3 526.3L389.5 529.0L390.9 531.7L392.3 534.3L393.7 536.9L395.2 539.5L396.8 542.0L398.4 544.4L400.2 546.8L401.9 549.1L403.8 551.3L405.7 553.5L407.7 555.7L409.8 557.7L411.9 559.7L414.1 561.6L416.4 563.4L418.8 565.2L421.1 567.0L423.6 568.7L426.1 570.3L428.6 571.9L431.2 573.5L433.8 575.0L436.4 576.5L439.1 577.9L441.8 579.3L444.5 580.8L447.2 582.1L449.9 583.5L452.7 584.9L455.5 586.2L458.2 587.6L461.0 588.9L463.7 590.3L466.5 591.6L469.2 593.0L471.9 594.4L474.7 595.7L477.4 597.1L480.1 598.5L482.8 599.9L485.5 601.2L488.2 602.6L490.9 604.0L493.6 605.4L496.3 606.8L498.9 608.2L501.6 609.6L504.3 611.0L506.9 612.4L509.6 613.9L512.2 615.3L514.9 616.7L517.5 618.1L520.2 619.6L522.8 621.0L525.4 622.4L528.1 623.9L530.7 625.3L533.3 626.8L535.9 628.2L538.5 629.7L541.1 631.2L543.7 632.6L546.3 634.1L548.9 635.6L551.5 637.1L554.1 638.5L556.7 640.0L559.3 641.5L561.9 643.0L564.4 644.5L567.0 646.0L569.6 647.5L572.2 649.1L574.7 650.6L577.3 652.1L579.9 653.6L582.5 655.1L585.0 656.7L587.6 658.2L590.2 659.8L592.7 661.3L595.3 662.9L597.8 664.4L600.4 666.0L603.0 667.5L605.5 669.1L608.1 670.7L610.6 672.2L613.2 673.8L615.8 675.4L618.3 677.0L620.9 678.6L623.4 680.2L626.0 681.8L628.5 683.4L631.1 685.0L633.6 686.6L636.2 688.2L638.7 689.8L641.3 691.4L643.8 693.0L646.4 694.7L648.9 696.3L651.5 697.9L654.0 699.5L656.6 701.2L659.1 702.8L661.6 704.5L664.2 706.1L666.7 707.7L669.2 709.4L671.8 711.0L674.3 712.7L676.8 714.4L679.4 716.0L681.9 717.7L684.4 719.3L687.0 721.0L689.5 722.7L692.0 724.4L694.5 726.0L697.0 727.7L699.6 729.4L702.1 731.1L704.6 732.7L707.1 734.4L709.6 736.1L712.1 737.8L714.6 739.5L717.1 741.2L719.6 742.9L722.1 744.6L724.6 746.3L727.1 747.9L729.6 749.6L732.1 751.3L734.6 753.0L737.1 754.7L739.6 756.4L742.1 758.1L744.6 759.9L747.0 761.6L749.5 763.3L752.0 765.0L754.5 766.7L756.9 768.4L759.4 770.1L761.9 771.8L764.3 773.5L766.8 775.2L769.2 776.9L771.7 778.7L774.2 780.4L776.6 782.1L779.1 783.8L781.5 785.5L790.0 790.3L795.3 793.2L800.6 796.1L805.9 799.0L811.2 801.9L816.5 804.8L821.8 807.6L827.1 810.5L832.4 813.3L837.8 816.1L843.1 818.9L848.5 821.7L853.8 824.5L859.2 827.2L864.6 830.0L869.9 832.7L875.3 835.4L880.7 838.1L886.1 840.8L891.5 843.5L896.9 846.1L902.3 848.8L907.7 851.4L913.1 854.0L918.6 856.6L924.0 859.2L929.4 861.8L934.9 864.3L940.3 866.9L945.8 869.4L951.2 872.0L956.7 874.5L962.2 877.0L967.6 879.5L973.1 882.0L978.6 884.4L984.1 886.9L989.6 889.3L995.1 891.7L1000.6 894.2L1006.1 896.6L1011.6 899.0L1017.2 901.3L1022.7 903.7L1028.2 906.1L1033.8 908.4L1039.3 910.7L1044.9 913.1L1050.4 915.4L1056.0 917.7L1061.5 920.0L1067.1 922.2L1072.7 924.5L1078.2 926.8L1083.8 929.0L1089.4 931.2L1095.0 933.5L1100.6 935.7L1106.2 937.9L1111.8 940.1L1117.4 942.2L1123.0 944.4L1128.6 946.6L1134.2 948.7L1139.8 950.8L1145.5 953.0L1151.1 955.1L1156.7 957.2L1162.4 959.3L1168.0 961.4L1173.7 963.5L1179.3 965.5L1185.0 967.6L1190.6 969.6L1196.3 971.7L1201.9 973.7L1207.6 975.7L1213.3 977.7L1219.0 979.7L1224.6 981.7L1230.3 983.7L1236.0 985.7L1241.7 987.6L1247.4 989.6L1253.1 991.5L1258.8 993.4L1264.5 995.4L1270.2 997.3L1275.9 999.2L1281.6 1001.1L1287.3 1003.0L1293.0 1004.9L1298.8 1006.7L1304.5 1008.6L1310.2 1010.4L1315.9 1012.3L1321.7 1014.1L1327.4 1015.9L1333.2 1017.8L1338.9 1019.6L1344.6 1021.4L1350.4 1023.2L1356.1 1024.9L1361.9 1026.7L1367.7 1028.5L1373.4 1030.2L1379.2 1032.0L1385.0 1033.7L1390.7 1035.5L1396.5 1037.2L1402.3 1038.9L1408.0 1040.6L1413.8 1042.3L1419.6 1044.0L1425.4 1045.7L1431.2 1047.4L1437.0 1049.0L1442.8 1050.7L1448.6 1052.3L1454.4 1054.0L1460.2 1055.6L1466.0 1057.3L1471.8 1058.9L1477.6 1060.5L1483.4 1062.1L1489.2 1063.7L1495.0 1065.3L1500.9 1066.9L1506.7 1068.4L1512.5 1070.0L1518.3 1071.6L1524.2 1073.1L1530.0 1074.7L1535.8 1076.2L1541.6 1077.7L1547.5 1079.3L1553.3 1080.8L1559.2 1082.3L1565.0 1083.8L1570.9 1085.3L1576.7 1086.8L1582.5 1088.3L1588.4 1089.8L1594.3 1091.2L1600.1 1092.7L1606.0 1094.1L1611.8 1095.6L1617.7 1097.0L1623.5 1098.5L1629.4 1099.9L1635.3 1101.3L1641.1 1102.7L1647.0 1104.2L1652.9 1105.6L1658.7 1107.0L1664.6 1108.3L1670.5 1109.7L1676.4 1111.1L1682.3 1112.5L1688.1 1113.8L1694.0 1115.2L1699.9 1116.6L1705.8 1117.9L1711.7 1119.3L1717.6 1120.6L1723.4 1121.9L1729.3 1123.3L1735.2 1124.6L1741.1 1125.9L1747.0 1127.2L1752.9 1128.5L1758.8 1129.8L1764.7 1131.1L1770.6 1132.4L1776.5 1133.6L1782.4 1134.9L1788.3 1136.2L1794.2 1137.5L1800.1 1138.7L1806.0 1140.0L1811.9 1141.2L1817.8 1142.5L1823.7 1143.7L1829.7 1144.9L1835.6 1146.2L1841.5 1147.4L1847.4 1148.6L1853.3 1149.8L1859.2 1151.0L1865.1 1152.2L1871.0 1153.4L1877.0 1154.6L1882.9 1155.8L1888.8 1157.0L1894.7 1158.2L1900.6 1159.3L1906.5 1160.5L1912.5 1161.7L1918.4 1162.8L1924.3 1164.0L1930.2 1165.2L1936.1 1166.3L1942.1 1167.5L1948.0 1168.6L1953.9 1169.7L1959.8 1170.9L1965.8 1172.0L1971.7 1173.1L1977.6 1174.2L1983.5 1175.3L1989.5 1176.5L1995.4 1177.6L2001.3 1178.7L2007.2 1179.8L2013.2 1180.9L2019.1 1182.0L2025.0 1183.0L2030.9 1184.1L2036.9 1185.2L2042.8 1186.3L2048.7 1187.4L2054.6 1188.4L2060.6 1189.5L2066.5 1190.6L2072.4 1191.6L2078.3 1192.7L2084.3 1193.7L2090.2 1194.8L2096.1 1195.8L2102.0 1196.9L2108.0 1197.9L2113.9 1199.0L2119.8 1200.0L2125.7 1201.0L2131.7 1202.1L2137.6 1203.1L2143.5 1204.1L2149.4 1205.1L2155.3 1206.2L2161.3 1207.2L2167.2 1208.2L2173.1 1209.2L2179.0 1210.2L2184.9 1211.2L2190.9 1212.2L2196.8 1213.2L2202.7 1214.2L2208.6 1215.2L2214.5 1216.2L2220.4 1217.2L2226.4 1218.2L2232.3 1219.2L2238.2 1220.1L2244.1 1221.1L2250.0 1222.1"/>
</g>
<g font-size="81" fill="#000">
<text transform="translate(245 1583.8) scale(1 1.02)" text-anchor="end">0.5</text>
<text transform="translate(245 1242.4) scale(1 1.02)" text-anchor="end">1.0</text>
<text transform="translate(245 900.9) scale(1 1.02)" text-anchor="end">1.5</text>
<text transform="translate(245 559.5) scale(1 1.02)" text-anchor="end">2.0</text>
<text transform="translate(245 218.1) scale(1 1.02)" text-anchor="end">2.5</text>
<text transform="translate(295.8 1711.3) scale(1 1.02)" text-anchor="middle">200</text>
<text transform="translate(621.4 1711.3) scale(1 1.02)" text-anchor="middle">300</text>
<text transform="translate(946.9 1711.3) scale(1 1.02)" text-anchor="middle">400</text>
<text transform="translate(1272.5 1711.3) scale(1 1.02)" text-anchor="middle">500</text>
<text transform="translate(1598.0 1711.3) scale(1 1.02)" text-anchor="middle">600</text>
<text transform="translate(1923.5 1711.3) scale(1 1.02)" text-anchor="middle">700</text>
<text transform="translate(2249.1 1711.3) scale(1 1.02)" text-anchor="middle">800</text>
</g>
<text x="1273.5" y="1843.3" font-size="94" text-anchor="middle" fill="#000">Wavelength / nm</text>
<text transform="translate(80.6 833.5) rotate(-90)" font-size="94" letter-spacing="0.95" text-anchor="middle" fill="#000">Absorbance / a.u.</text>
<line x1="1858.2" x2="2004.6" y1="250" y2="250" stroke="#555555" stroke-width="20" stroke-linecap="round"/>
<text transform="translate(2036.3 272.9) scale(1 1.05)" font-size="110" fill="#000">E1</text>
<line x1="1858.2" x2="2004.6" y1="391" y2="391" stroke="#1f6cd9" stroke-width="20" stroke-linecap="round"/>
<text transform="translate(2036.3 413.9) scale(1 1.05)" font-size="110" fill="#000">E2</text>
<line x1="1858.2" x2="2004.6" y1="532" y2="532" stroke="#b177de" stroke-width="20" stroke-linecap="round"/>
<text transform="translate(2036.3 554.9) scale(1 1.05)" font-size="110" fill="#000">E3</text>
<line x1="1858.2" x2="2004.6" y1="672.5" y2="672.5" stroke="#ca9907" stroke-width="20" stroke-linecap="round"/>
<text transform="translate(2036.3 695.4) scale(1 1.05)" font-size="110" fill="#000">E4</text>
<line x1="1858.2" x2="2004.6" y1="813" y2="813" stroke="#08c8c8" stroke-width="20" stroke-linecap="round"/>
<text transform="translate(2036.3 835.9) scale(1 1.05)" font-size="110" fill="#000">E5</text>
</svg>
</body></html>
